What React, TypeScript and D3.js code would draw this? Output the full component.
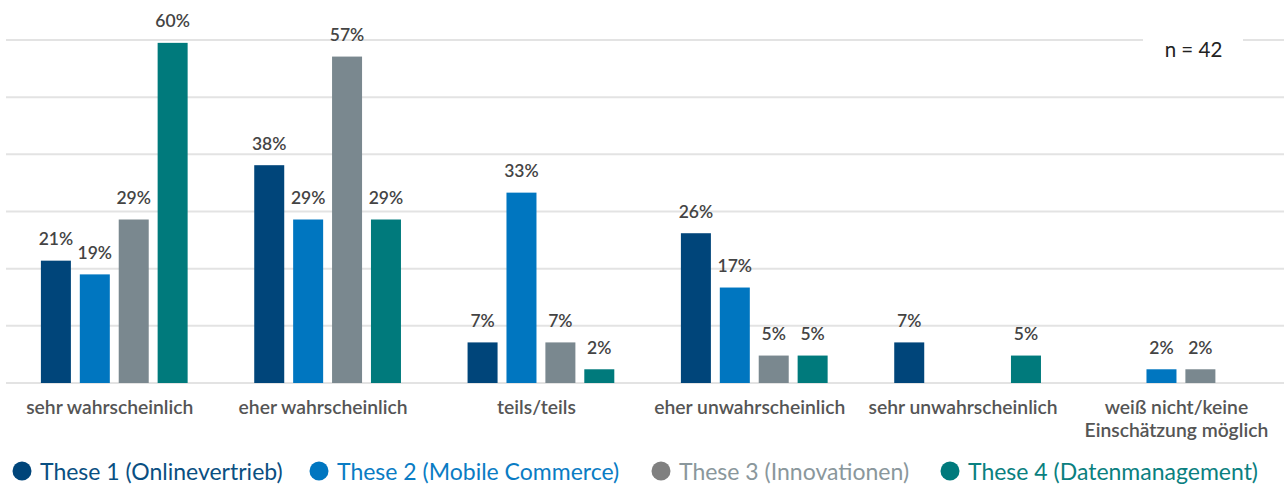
import React from "react";
import * as d3 from "d3";

const categories: string[][] = [
  ["sehr wahrscheinlich"],
  ["eher wahrscheinlich"],
  ["teils/teils"],
  ["eher unwahrscheinlich"],
  ["sehr unwahrscheinlich"],
  ["weiß nicht/keine", "Einschätzung möglich"],
];
const seriesNames = [
  "These 1 (Onlinevertrieb)",
  "These 2 (Mobile Commerce)",
  "These 3 (Innovationen)",
  "These 4 (Datenmanagement)",
];
const these1 = [21.4, 38.1, 7.1, 26.2, 7.1, 0];
const these2 = [19.0, 28.6, 33.3, 16.7, 0, 2.4];
const these3 = [28.6, 57.1, 7.1, 4.8, 0, 2.4];
const these4 = [59.5, 28.6, 2.4, 4.8, 4.8, 0];
const seriesValues = [these1, these2, these3, these4];
const barColors = ["#00457a", "#0076c0", "#7a888f", "#007a7c"];
const legendTextColors = ["#0a4f82", "#0a7cc4", "#8a979c", "#0a8080"];
const legendDotColors = ["#00457a", "#0076c0", "#808080", "#007a7c"];
const yTicks = [0, 10, 20, 30, 40, 50, 60];
const sampleNote = "n = 42";

const W = 1284;
const H = 484;
const FONT = "Lato, 'Source Sans Pro', sans-serif";

export default function App() {
  const catKeys = categories.map((c) => c.join(" "));
  const x0 = d3.scaleBand<string>().domain(catKeys).range([7.6, 1287.6]).padding(0);
  const x1 = d3
    .scaleBand<string>()
    .domain(seriesNames)
    .range([33.3, x0.bandwidth() - 33.3])
    .paddingInner(0.229)
    .paddingOuter(0);
  const y = d3.scaleLinear().domain([0, 60]).range([383, 40]);

  const legendX = [22, 319, 661, 950];

  return (
    <svg
      width={W}
      height={H}
      style={{ position: "absolute", left: 0, top: 0, background: "#fff" }}
      fontFamily={FONT}
    >
      {yTicks.map((t) => (
        <line key={t} x1={6} x2={W} y1={y(t)} y2={y(t)} stroke="#e3e3e3" strokeWidth={2} />
      ))}
      <rect x={1143} y={28} width={100} height={56} fill="#fff" />
      <text x={1193.5} y={56.5} textAnchor="middle" fontSize={20.5} fill="#222">
        {sampleNote}
      </text>
      {catKeys.map((cat, ci) => (
        <g key={cat} transform={`translate(${x0(cat)},0)`}>
          {seriesNames.map((s, si) => {
            const v = seriesValues[si][ci];
            if (!v) return null;
            const bx = x1(s)!;
            return (
              <g key={s}>
                <rect
                  x={bx}
                  y={y(v)}
                  width={x1.bandwidth()}
                  height={y(0) - y(v)}
                  fill={barColors[si]}
                />
                <text
                  x={bx + x1.bandwidth() / 2}
                  y={y(v) - 15.5}
                  textAnchor="middle"
                  fontSize={17.5}
                  fontWeight={600}
                  fill="#444"
                >
                  {Math.round(v)}%
                </text>
              </g>
            );
          })}
          {categories[ci].map((line, li) => (
            <text
              key={li}
              x={x0.bandwidth() / 2 - 4.5}
              y={414 + li * 23}
              textAnchor="middle"
              fontSize={19.3}
              fontWeight={600}
              fill="#555"
            >
              {line}
            </text>
          ))}
        </g>
      ))}
      {seriesNames.map((s, si) => (
        <g key={s}>
          <circle cx={legendX[si]} cy={471} r={9.5} fill={legendDotColors[si]} />
          <text x={legendX[si] + 18} y={479.5} fontSize={23} fill={legendTextColors[si]}>
            {s}
          </text>
        </g>
      ))}
    </svg>
  );
}
